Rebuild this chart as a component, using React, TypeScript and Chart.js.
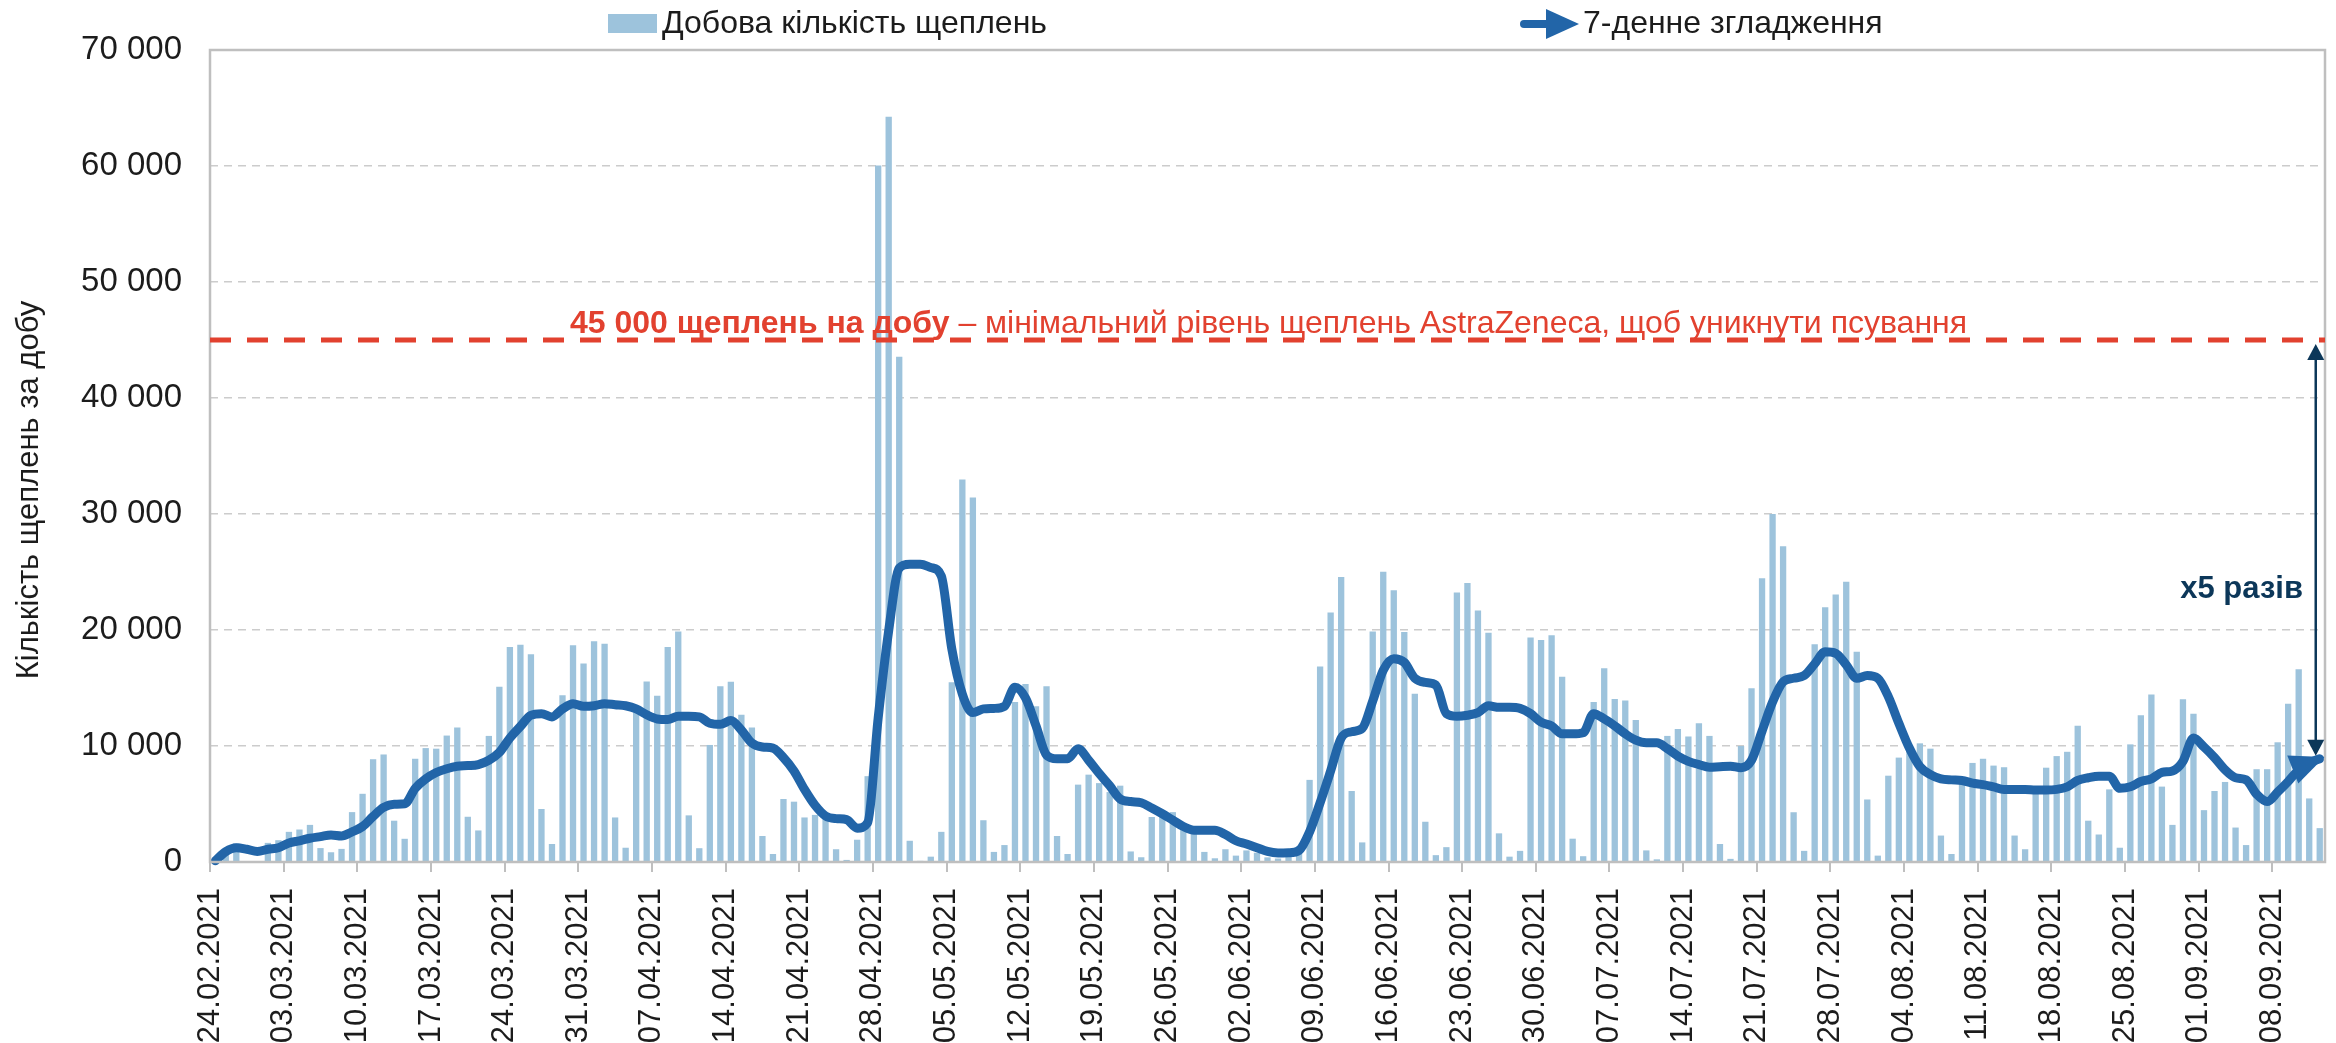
import React, { useEffect, useRef } from 'react';
import { Chart, registerables } from 'chart.js';

Chart.register(...registerables);

// ---------- data ----------
const tickLabels = [
  '24.02.2021', '03.03.2021', '10.03.2021', '17.03.2021', '24.03.2021', '31.03.2021',
  '07.04.2021', '14.04.2021', '21.04.2021', '28.04.2021', '05.05.2021', '12.05.2021',
  '19.05.2021', '26.05.2021', '02.06.2021', '09.06.2021', '16.06.2021', '23.06.2021',
  '30.06.2021', '07.07.2021', '14.07.2021', '21.07.2021', '28.07.2021', '04.08.2021',
  '11.08.2021', '18.08.2021', '25.08.2021', '01.09.2021', '08.09.2021',
];
const daysPerTick = 7;

// daily vaccinations, one value per day starting 24.02.2021
const dailyVaccinations = [
  0, 1100, 1600, 0, 0, 1650, 1880, 2600, 2800, 3200,
  1200, 840, 1130, 4300, 5880, 8860, 9270, 3560, 2000, 8900,
  9820, 9770, 10900, 11600, 3900, 2720, 10870, 15110, 18540, 18720,
  17900, 4570, 1550, 14380, 18680, 17120, 19040, 18810, 3840, 1230,
  12900, 15570, 14340, 18540, 19860, 4020, 1190, 10090, 15160, 15530,
  12690, 11600, 2240, 690, 5430, 5200, 3840, 4060, 3700, 1100,
  180, 1920, 7400, 60050, 64250, 43560, 1830, 100, 460, 2600,
  15500, 32970, 31420, 3600, 870, 1460, 13790, 15340, 13420, 15160,
  2240, 690, 6670, 7530, 6800, 6030, 6580, 910, 410, 3880,
  4200, 4300, 3300, 2400, 870, 320, 1100, 550, 1000, 800,
  400, 300, 900, 1370, 7080, 16850, 21510, 24570, 6120, 1690,
  19860, 25020, 23420, 19820, 14500, 3470, 590, 1280, 23240, 24060,
  21690, 19770, 2470, 460, 960, 19360, 19130, 19540, 15980, 2010,
  500, 13790, 16710, 14060, 13930, 12240, 1000, 230, 10870, 11460,
  10820, 11960, 10870, 1550, 270, 10000, 14980, 24470, 30000, 27210,
  4290, 960, 18770, 21960, 23060, 24160, 18130, 5390, 550, 7440,
  9000, 9590, 10230, 9770, 2280, 690, 7000, 8540, 8900, 8310,
  8170, 2280, 1100, 6500, 8130, 9130, 9500, 11740, 3560, 2370,
  6260, 1230, 10140, 12650, 14430, 6500, 3200, 14020, 12790, 4470,
  6120, 6900, 2970, 1460, 8000, 8000, 10320, 13650, 16620, 5480,
  2920,
];

// 7-day smoothing
const smoothed = [
  100, 900, 1230, 1100, 900, 1100, 1230, 1640, 1830, 2050,
  2190, 2330, 2240, 2600, 3060, 3930, 4700, 4980, 5020, 6350,
  7170, 7720, 8040, 8260, 8310, 8400, 8770, 9450, 10690, 11690,
  12650, 12790, 12510, 13200, 13650, 13420, 13470, 13650, 13560, 13470,
  13200, 12690, 12330, 12280, 12560, 12560, 12510, 11960, 11870, 12190,
  11370, 10250, 9910, 9820, 9000, 7850, 6260, 4890, 3970, 3740,
  3650, 2920, 3380, 12420, 19950, 25340, 25660, 25660, 25390, 24660,
  18360, 14470, 12880, 13200, 13240, 13420, 15070, 14150, 11740, 9220,
  8900, 8900, 9770, 8770, 7630, 6580, 5430, 5210, 5110, 4660,
  4160, 3610, 3060, 2740, 2740, 2740, 2370, 1830, 1550, 1230,
  910, 780, 800, 1000, 2600, 5110, 7850, 10680, 11230, 11510,
  13880, 16530, 17530, 17210, 15840, 15480, 15250, 12790, 12560, 12650,
  12880, 13470, 13330, 13330, 13240, 12790, 12050, 11740, 11050, 11050,
  11140, 12790, 12330, 11740, 11050, 10500, 10270, 10270, 9770, 9130,
  8680, 8400, 8170, 8220, 8260, 8130, 8770, 11280, 13790, 15530,
  15840, 16070, 17080, 18120, 17990, 16990, 15840, 16070, 15840, 14250,
  11960, 9820, 8220, 7530, 7170, 7080, 7030, 6800, 6670, 6480,
  6260, 6260, 6260, 6210, 6210, 6260, 6480, 7030, 7260, 7400,
  7400, 6350, 6480, 6940, 7170, 7720, 7850, 8680, 10680, 9910,
  9000, 7950, 7260, 7080, 5840, 5210, 6030, 6940, 7950, 8540,
  8900,
];

const barLabel = 'Добова кількість щеплень';
const lineLabel = '7-денне згладження';
const yTitle = 'Кількість щеплень за добу';
const thresholdValue = 45000;
const thresholdBold = '45 000 щеплень на добу';
const thresholdRest = ' – мінімальний рівень щеплень AstraZeneca, щоб уникнути псування';
const gapLabel = 'x5 разів';
const gapLabelValue = 23500;
const yMax = 70000;
const yStep = 10000;

// ---------- styles ----------
const FONT = '"Liberation Sans", Arial, Helvetica, sans-serif';
const BAR_COLOR = '#9DC3DC';
const LINE_COLOR = '#2265A8';
const RED = '#E2412F';
const NAVY = '#0C3759';
const TEXT = '#1C1C1C';
const FRAME = '#BFBFBF';

const fmt = (v: number) => String(v).replace(/\B(?=(\d{3})+(?!\d))/g, ' ');

const overlayPlugin = {
  id: 'overlay',
  afterDatasetsDraw(chart: any) {
    const { ctx, chartArea: a, scales } = chart;
    const y = scales.y;
    ctx.save();

    // frame
    ctx.strokeStyle = FRAME;
    ctx.lineWidth = 2.5;
    ctx.strokeRect(a.left, a.top, a.right - a.left, a.bottom - a.top);

    // threshold line
    const yT = y.getPixelForValue(thresholdValue);
    ctx.strokeStyle = RED;
    ctx.lineWidth = 5;
    ctx.setLineDash([21, 16]);
    ctx.beginPath();
    ctx.moveTo(a.left, yT);
    ctx.lineTo(a.right, yT);
    ctx.stroke();
    ctx.setLineDash([]);

    // threshold text
    ctx.fillStyle = RED;
    ctx.textBaseline = 'alphabetic';
    ctx.textAlign = 'left';
    const tx = a.left + 360;
    ctx.font = `bold 32px ${FONT}`;
    ctx.fillText(thresholdBold, tx, yT - 7);
    const wb = ctx.measureText(thresholdBold).width;
    ctx.font = `32px ${FONT}`;
    ctx.fillText(thresholdRest, tx + wb, yT - 7);

    // arrow head at end of smoothing line
    const lineMeta = chart.getDatasetMeta(0);
    const pts = lineMeta.data;
    const p1 = pts[pts.length - 1];
    const p0 = pts[pts.length - 2];
    const ang = Math.atan2(p1.y - p0.y, p1.x - p0.x);
    const tipX = p1.x + Math.cos(ang) * 5;
    const tipY = p1.y + Math.sin(ang) * 5;
    const L = 34, H = 15;
    const bx = tipX - Math.cos(ang) * L, by = tipY - Math.sin(ang) * L;
    ctx.fillStyle = LINE_COLOR;
    ctx.beginPath();
    ctx.moveTo(tipX, tipY);
    ctx.lineTo(bx + Math.sin(ang) * H, by - Math.cos(ang) * H);
    ctx.lineTo(bx - Math.sin(ang) * H, by + Math.cos(ang) * H);
    ctx.closePath();
    ctx.fill();

    // double arrow between smoothing end and threshold
    const ax = p1.x - 4;
    const aTop = yT + 4;
    const aBot = p1.y - 3;
    ctx.strokeStyle = NAVY;
    ctx.fillStyle = NAVY;
    ctx.lineWidth = 2.5;
    ctx.beginPath();
    ctx.moveTo(ax, aTop + 10);
    ctx.lineTo(ax, aBot - 10);
    ctx.stroke();
    ctx.beginPath();
    ctx.moveTo(ax, aTop);
    ctx.lineTo(ax - 8.5, aTop + 16);
    ctx.lineTo(ax + 8.5, aTop + 16);
    ctx.closePath();
    ctx.fill();
    ctx.beginPath();
    ctx.moveTo(ax, aBot);
    ctx.lineTo(ax - 8.5, aBot - 16);
    ctx.lineTo(ax + 8.5, aBot - 16);
    ctx.closePath();
    ctx.fill();

    ctx.font = `bold 31px ${FONT}`;
    ctx.textAlign = 'right';
    ctx.textBaseline = 'middle';
    ctx.fillText(gapLabel, a.right - 22, y.getPixelForValue(gapLabelValue));

    // legend
    ctx.textAlign = 'left';
    ctx.textBaseline = 'middle';
    ctx.font = `32px ${FONT}`;
    const ly = 24;
    ctx.fillStyle = BAR_COLOR;
    ctx.fillRect(608, ly - 10, 49, 19);
    ctx.fillStyle = TEXT;
    ctx.fillText(barLabel, 662, ly);

    ctx.strokeStyle = LINE_COLOR;
    ctx.lineWidth = 8;
    ctx.lineCap = 'round';
    ctx.beginPath();
    ctx.moveTo(1524, ly);
    ctx.lineTo(1552, ly);
    ctx.stroke();
    ctx.fillStyle = LINE_COLOR;
    ctx.beginPath();
    ctx.moveTo(1579, ly);
    ctx.lineTo(1546, ly - 15);
    ctx.lineTo(1546, ly + 15);
    ctx.closePath();
    ctx.fill();
    ctx.fillStyle = TEXT;
    ctx.fillText(lineLabel, 1583, ly);

    // y title
    ctx.save();
    ctx.translate(29, 490);
    ctx.rotate(-Math.PI / 2);
    ctx.textAlign = 'center';
    ctx.textBaseline = 'middle';
    ctx.font = `31px ${FONT}`;
    ctx.fillStyle = TEXT;
    ctx.fillText(yTitle, 0, 0);
    ctx.restore();

    ctx.restore();
  },
};

export default function App() {
  const ref = useRef<HTMLCanvasElement | null>(null);

  useEffect(() => {
    if (!ref.current) return;
    const barData = dailyVaccinations.map((v, i) => ({ x: i + 0.5, y: v }));
    const lineData = smoothed.map((v, i) => ({ x: i + 0.5, y: v }));
    const chart = new Chart(ref.current, {
      type: 'bar',
      data: {
        datasets: [
          {
            type: 'line',
            label: lineLabel,
            data: lineData,
            borderColor: LINE_COLOR,
            borderWidth: 9,
            pointRadius: 0,
            cubicInterpolationMode: 'monotone',
            borderCapStyle: 'round',
            borderJoinStyle: 'round',
            clip: false,
            order: 0,
          } as any,
          {
            type: 'bar',
            label: barLabel,
            data: barData,
            backgroundColor: BAR_COLOR,
            barPercentage: 0.6,
            categoryPercentage: 1,
            order: 1,
          } as any,
        ],
      },
      options: {
        responsive: false,
        animation: false,
        devicePixelRatio: 1,
        layout: { padding: { left: 0, right: 11, top: 50, bottom: 0 } },
        plugins: { legend: { display: false }, tooltip: { enabled: false } },
        scales: {
          x: {
            type: 'linear',
            offset: false,
            min: 0,
            max: dailyVaccinations.length,
            afterBuildTicks: (scale: any) => {
              scale.ticks = tickLabels.map((_, k) => ({ value: k * daysPerTick }));
            },
            afterFit: (scale: any) => {
              scale.height = 181;
            },
            ticks: {
              autoSkip: false,
              minRotation: 90,
              maxRotation: 90,
              padding: 16,
              color: TEXT,
              font: { family: FONT, size: 31 },
              callback: (_v: any, i: number) => tickLabels[i],
            },
            grid: {
              display: true,
              offset: false,
              drawOnChartArea: false,
              drawTicks: true,
              tickLength: 10,
              color: FRAME,
              lineWidth: 2,
            },
            border: { display: false },
          },
          y: {
            min: 0,
            max: yMax,
            afterFit: (scale: any) => {
              scale.width = 210;
            },
            ticks: {
              stepSize: yStep,
              padding: 28,
              color: TEXT,
              font: { family: FONT, size: 33 },
              callback: (v: any) => fmt(Number(v)),
            },
            grid: {
              color: '#CCCCCC',
              lineWidth: 1.5,
              drawTicks: false,
            },
            border: { display: false, dash: [8, 6] },
          },
        },
      } as any,
      plugins: [overlayPlugin],
    });
    return () => chart.destroy();
  }, []);

  return (
    <div style={{ position: 'fixed', left: 0, top: 0, width: 2336, height: 1043, background: '#fff' }}>
      <canvas ref={ref} width={2336} height={1043} style={{ display: 'block' }} />
    </div>
  );
}
